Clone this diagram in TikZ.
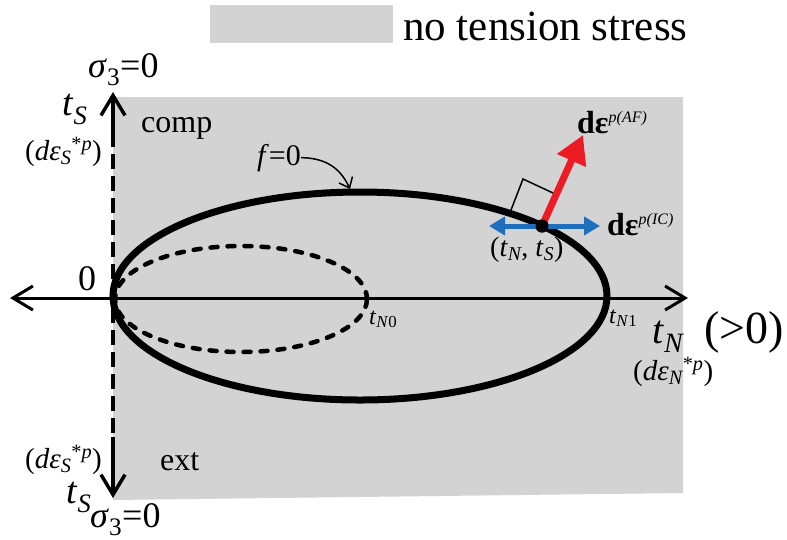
\documentclass[tikz,border=0pt]{standalone}
\usepackage{fontspec}
\setmainfont{Liberation Serif}
\usetikzlibrary{arrows.meta}
\definecolor{zone}{RGB}{211,211,211}
\definecolor{tblue}{RGB}{30,112,190}
\definecolor{tred}{RGB}{237,28,36}
\newcommand\fs[1]{\fontsize{#1}{#1}\selectfont}
\newcommand\isub[1]{\textsubscript{\itshape #1}}
\newcommand\isup[1]{\textsuperscript{#1}}
\begin{document}
\begin{tikzpicture}[x=1pt,y=-1pt,
  lab/.style={inner sep=0pt, anchor=base west},
  barb/.tip={Straight Barb[length=20pt,width=24pt]},
  axisline/.style={line width=3pt},
  vaxis/.style={line width=3.5pt},
  curve/.style={line width=7pt},
  dcurve/.style={line width=4.5pt, line cap=round, dash pattern=on 7pt off 10pt},
  thin/.style={line width=1.5pt}]
\useasboundingbox (0,0) rectangle (787,539);

% grey no-tension zone
\fill[zone] (113,97) -- (683,97) -- (683,493) -- (113,500) -- cycle;
% legend
\node[fill=zone, minimum width=183pt, minimum height=38pt, inner sep=0pt, anchor=north west] (leg) at (210,5) {};
\node[lab, font=\fs{43}] (legt) at (403,40) {no tension stress};

% axes
\coordinate (xl) at (10,298);
\coordinate (xr) at (688,298);
\draw[axisline, barb-barb] (xl) -- (xr);
\coordinate (yt) at (113,92);
\coordinate (ya) at (113,132);
\coordinate (yc) at (113,437);
\coordinate (yb) at (113,498);
\draw[vaxis, dash pattern=on 15pt off 7pt] (ya) -- (yc);
\draw[vaxis, -barb] (ya) -- (yt);
\draw[vaxis, -barb] (yc) -- (yb);

% yield surfaces
\coordinate (C1) at (360,296);
\coordinate (C0) at (241,299);
\draw[curve] (C1) ellipse [x radius=247pt, y radius=104pt];
\draw[dcurve] (C0) ellipse [x radius=126pt, y radius=53pt];

% flow vectors at (tN, tS)
\node[circle, fill=black, inner sep=0pt, minimum size=13pt] (P) at (542,226) {};
\coordinate (bl) at (489,226);
\coordinate (br) at (600,226);
\coordinate (rt) at (583,135);
\draw[tblue, line width=5pt, {Triangle[length=16pt,width=18pt]}-{Triangle[length=16pt,width=18pt]}] (bl) -- (br);
\draw[tred, line width=7pt, -{Triangle[length=28pt,width=30pt]}] (P.center) -- (rt);
\node[circle, fill=black, inner sep=0pt, minimum size=13pt] at (P) {};
\coordinate (ra1) at (511,210);
\coordinate (ra2) at (523,179);
\coordinate (ra3) at (553,193);
\draw[thin] (ra1) -- (ra2) -- (ra3);

% labels
\node[lab, font=\fs{36}] (s3t) at (88,77) {\textit{σ}\textsubscript{3}=0};
\node[lab, font=\fs{38}] (tst) at (62,115) {\textit{t}\isub{S}};
\node[lab, font=\fs{29}] (dst) at (25,160) {(\textit{dε}\isub{S}\isup{*\itshape p})};
\node[lab, font=\fs{32}] (comp) at (141,132) {comp};
\node[lab, font=\fs{36}] (zero) at (78,290) {0};
\node[lab, font=\fs{30}] (f0) at (257,165) {\textit{f}=0};
\coordinate (fe) at (350,189);
\draw[thin, -{Straight Barb[length=9pt,width=15pt]}] (f0.east) .. controls (330,158) and (342,172) .. (fe);
\node[lab, font=\fs{24}] (tn0) at (369,324) {\textit{t}\textsubscript{\textit{N}0}};
\node[lab, font=\fs{24}] (tn1) at (609,323) {\textit{t}\textsubscript{\textit{N}1}};
\node[lab, font=\fs{40}] (tn) at (652,343) {\textit{t}\isub{N}};
\node[lab, font=\fs{46}] (gt) at (704,343) {(>0)};
\node[lab, font=\fs{29}] (dnt) at (633,380) {(\textit{dε}\isub{N}\isup{*\itshape p})};
\node[lab, font=\fs{28}] (tnts) at (490,256) {(\textit{t}\isub{N}, \textit{t}\isub{S})};
\node[lab, font=\fs{32}\bfseries] (daf) at (577,133) {dε\raisebox{11pt}{\fs{16}\mdseries\itshape p(AF)}};
\node[lab, font=\fs{32}\bfseries] (dic) at (607,235) {dε\raisebox{11pt}{\fs{16}\mdseries\itshape p(IC)}};
\node[lab, font=\fs{29}] (dsb) at (25,468) {(\textit{dε}\isub{S}\isup{*\itshape p})};
\node[lab, font=\fs{32}] (ext) at (160,470) {ext};
\node[lab, font=\fs{38}] (tsb) at (66,503) {\textit{t}\isub{S}};
\node[lab, font=\fs{36}] (s3b) at (90,527) {\textit{σ}\textsubscript{3}=0};
\end{tikzpicture}
\end{document}
